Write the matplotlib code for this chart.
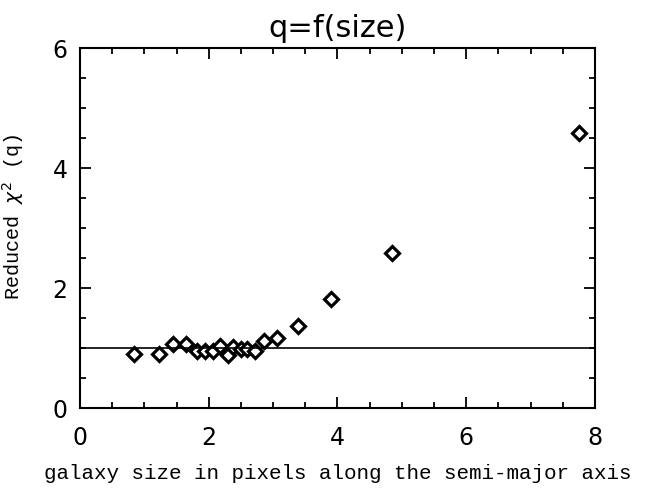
import matplotlib
matplotlib.use("Agg")
import matplotlib.pyplot as plt
from matplotlib.ticker import MultipleLocator

size = [0.84, 1.22, 1.45, 1.65, 1.81, 1.94, 2.06, 2.18, 2.30, 2.38, 2.50, 2.59, 2.72, 2.86, 3.06, 3.39, 3.90, 4.85, 7.75]
chi2 = [0.895, 0.90, 1.07, 1.07, 0.955, 0.95, 0.95, 1.03, 0.88, 1.01, 0.98, 0.99, 0.95, 1.12, 1.17, 1.37, 1.82, 2.59, 4.59]

fig = plt.figure(figsize=(6.61, 4.93), dpi=100)
ax = fig.add_axes([80/661, 85/493, 515/661, 360/493])

ax.plot(size, chi2, linestyle='none', marker='D', markersize=7,
        markerfacecolor='white', markeredgecolor='black', markeredgewidth=2.3)
ax.axhline(1.0, color='black', linewidth=1.2)

ax.set_xlim(0, 8)
ax.set_ylim(0, 6)
ax.xaxis.set_major_locator(MultipleLocator(2))
ax.xaxis.set_minor_locator(MultipleLocator(0.5))
ax.yaxis.set_major_locator(MultipleLocator(2))
ax.yaxis.set_minor_locator(MultipleLocator(0.5))
ax.tick_params(which='both', direction='in', top=True, right=True, width=1.3)
ax.tick_params(which='major', length=8, labelsize=17)
ax.tick_params(axis='x', which='major', pad=13)
ax.tick_params(axis='y', which='major', pad=9)
ax.tick_params(which='minor', length=4)
for s in ax.spines.values():
    s.set_linewidth(1.5)

ax.set_title('q=f(size)', fontsize=22, pad=8)
ax.set_xlabel('galaxy size in pixels along the semi-major axis',
              family='Liberation Mono', fontsize=15)
ax.xaxis.set_label_coords(0.5, -0.155)
ax.set_ylabel(r'Reduced $\chi^2$ (q)', family='Liberation Mono', fontsize=14.5)
ax.yaxis.set_label_coords(-0.105, 0.53)

fig.savefig('out.png', dpi=100)
